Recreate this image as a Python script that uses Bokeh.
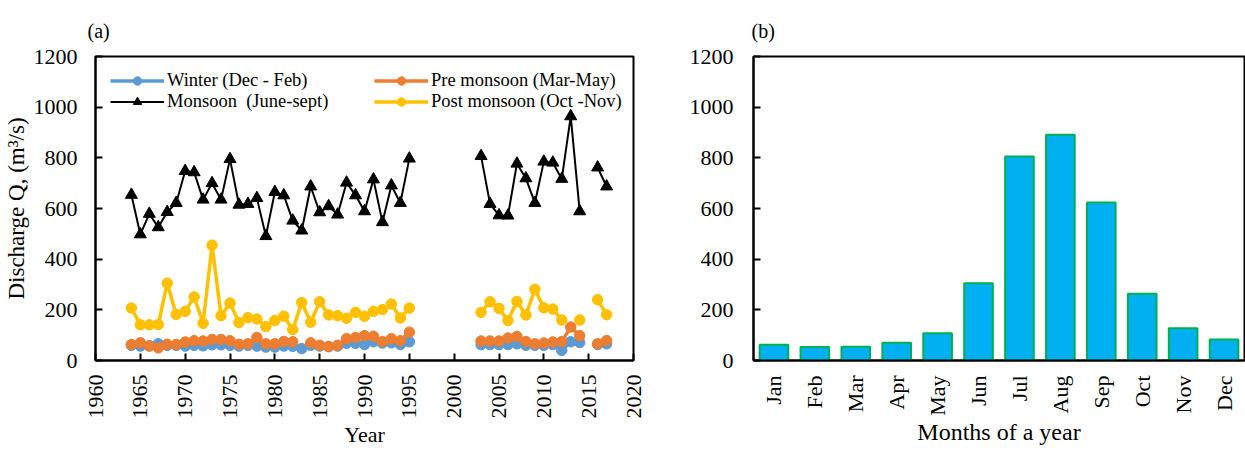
import numpy as np
from bokeh.plotting import figure
from bokeh.layouts import row
from bokeh.models import Legend, LegendItem, ColumnDataSource, FixedTicker, Range1d
from bokeh.embed import file_html
from bokeh.resources import INLINE

N = None
years = list(range(1964, 2018))
winter = [60, 57, 58, 66, 60, 60, 57, 60, 58, 62, 62, 60, 57, 60, 57, 53, 53, 57, 56, 47, 60, 57, 55, 57, 68, 68, 63, 74, 69, 70, 63, 74,
          N, N, N, N, N, N, N,
          63, 63, 63, 63, 66, 60, 60, 60, 63, 40, 74, 71, N, 63, 66]
pre_monsoon = [63, 70, 57, 50, 64, 63, 73, 78, 77, 83, 83, 78, 64, 66, 91, 66, 66, 75, 74, N, 70, 60, 55, 60, 86, 91, 98, 96, 75, 86, 78, 112,
               N, N, N, N, N, N, N,
               77, 77, 77, 89, 95, 75, 66, 69, 73, 75, 132, 98, N, 66, 79]
monsoon = [654, 498, 579, 526, 586, 622, 748, 743, 635, 700, 635, 795, 615, 618, 641, 491, 665, 652, 552, 513, 687, 585, 609, 576, 702, 652, 589, 715, 546, 691, 622, 797,
           N, N, N, N, N, N, N,
           807, 618, 573, 572, 777, 719, 622, 785, 781, 717, 964, 589, N, 762, 687]
post_monsoon = [207, 141, 141, 142, 305, 182, 194, 251, 147, 455, 177, 227, 150, 169, 164, 134, 158, 175, 122, 229, 151, 232, 180, 177, 167, 190, 175, 194, 201, 223, 168, 207,
                N, N, N, N, N, N, N,
                190, 232, 206, 158, 233, 180, 281, 208, 203, 160, N, 160, N, 240, 181]

months = ["Jan", "Feb", "Mar", "Apr", "May", "Jun", "Jul", "Aug", "Sep", "Oct", "Nov", "Dec"]
monthly_q = [62, 53, 54, 70, 108, 305, 805, 891, 624, 263, 127, 83]

series_names = ["Winter (Dec - Feb)", "Pre monsoon (Mar-May)", "Monsoon  (June-sept)", "Post monsoon (Oct -Nov)"]

FONT = "Liberation Serif"

def arr(v):
    return np.array([np.nan if x is None else x for x in v], dtype=float)

src = ColumnDataSource(dict(year=years, w=arr(winter), pre=arr(pre_monsoon), mon=arr(monsoon), post=arr(post_monsoon)))

def style_axes(p):
    for ax in (p.xaxis, p.yaxis):
        ax.axis_line_color = "black"
        ax.axis_line_width = 2
        ax.major_label_text_font = FONT
        ax.major_label_text_font_size = "22px"
        ax.major_label_text_color = "black"
        ax.axis_label_text_font = FONT
        ax.axis_label_text_font_size = "22px"
        ax.axis_label_text_font_style = "normal"
        ax.axis_label_text_color = "black"
        ax.minor_tick_line_color = None
        ax.major_tick_line_color = "black"
        ax.major_tick_line_width = 2
        ax.major_tick_in = 7
        ax.major_tick_out = 0
    p.grid.grid_line_color = None
    p.outline_line_color = "black"
    p.outline_line_width = 2
    p.outline_line_alpha = 1
    p.title.text_font = FONT
    p.title.text_font_size = "20px"
    p.title.text_font_style = "normal"
    p.title.text_color = "black"
    p.title.align = "left"
    p.title.standoff = 26
    p.title.vertical_align = "top"
    p.title.offset = -8

# ---- Panel (a)
p1 = figure(width=650, height=450, output_backend="svg", toolbar_location=None,
            x_range=Range1d(1960, 2020), y_range=Range1d(0, 1200), title="(a)",
            min_border_left=95, min_border_right=17, min_border_top=55, min_border_bottom=88)
style_axes(p1)
p1.xaxis.ticker = FixedTicker(ticks=list(range(1960, 2021, 5)))
p1.yaxis.ticker = FixedTicker(ticks=list(range(0, 1201, 200)))
p1.xaxis.major_label_orientation = np.pi / 2
p1.xaxis.major_label_standoff = 14
p1.yaxis.major_label_standoff = 18
p1.xaxis.axis_label = "Year"
p1.yaxis.axis_label = "Discharge Q, (m³/s)"
p1.yaxis.axis_label_text_font_size = "23px"
p1.yaxis.axis_label_standoff = 2
p1.xaxis.axis_label_standoff = 0

blue, orange, yellow = "#5B9BD5", "#ED7D31", "#FFC000"
lw_ = p1.line("year", "w", source=src, line_color=blue, line_width=3.5)
sw_ = p1.scatter("year", "w", source=src, marker="circle", size=10.5, fill_color=blue, line_color=blue)
lp_ = p1.line("year", "pre", source=src, line_color=orange, line_width=3.5)
sp_ = p1.scatter("year", "pre", source=src, marker="circle", size=10.5, fill_color=orange, line_color=orange)
lm_ = p1.line("year", "mon", source=src, line_color="black", line_width=2)
sm_ = p1.scatter("year", "mon", source=src, marker="triangle", size=12, fill_color="black", line_color="black")
lq_ = p1.line("year", "post", source=src, line_color=yellow, line_width=3.5)
sq_ = p1.scatter("year", "post", source=src, marker="circle", size=10.5, fill_color=yellow, line_color=yellow)

def mk_legend(items, loc):
    lg = Legend(items=items, location=loc, padding=0, margin=0, spacing=0,
                label_height=21, glyph_height=21, glyph_width=54, label_standoff=3,
                label_text_font=FONT, label_text_font_size="18.5px", label_text_color="black",
                border_line_color=None, background_fill_alpha=0)
    return lg

leg1 = mk_legend([LegendItem(label=series_names[0], renderers=[lw_, sw_]),
                  LegendItem(label=series_names[2], renderers=[lm_, sm_])], (15, 248))
leg2 = mk_legend([LegendItem(label=series_names[1], renderers=[lp_, sp_]),
                  LegendItem(label=series_names[3], renderers=[lq_, sq_])], (279, 248))
p1.add_layout(leg1)
p1.add_layout(leg2)

# ---- Panel (b)
p2 = figure(width=595, height=450, output_backend="svg", toolbar_location=None,
            x_range=months, y_range=Range1d(0, 1200), title="(b)",
            min_border_left=103, min_border_right=1, min_border_top=56, min_border_bottom=90)
style_axes(p2)
p2.title.offset = -2
p2.x_range.range_padding = 0
p2.yaxis.ticker = FixedTicker(ticks=list(range(0, 1201, 200)))
p2.yaxis.major_label_standoff = 20
p2.xaxis.major_tick_line_color = None
p2.xaxis.major_label_orientation = np.pi / 2
p2.xaxis.major_label_standoff = 15
p2.xaxis.axis_label = "Months of a year"
p2.xaxis.axis_label_text_font_size = "24px"
p2.xaxis.axis_label_standoff = 0
p2.vbar(x=months, top=monthly_q, width=0.7, fill_color="#00B0F0", line_color="#00B050", line_width=2)

layout = row(p1, p2)
open("out.html", "w").write(file_html(layout, INLINE))
